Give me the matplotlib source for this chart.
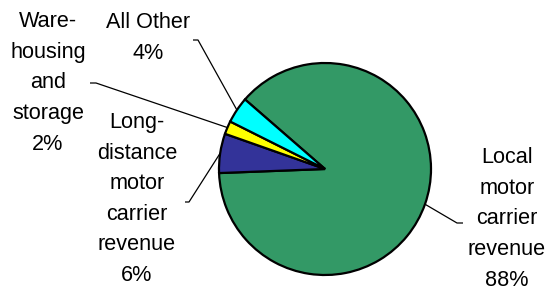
import matplotlib
matplotlib.use("Agg")
import matplotlib.pyplot as plt
import numpy as np

labels = ["Local\nmotor\ncarrier\nrevenue", "Long-\ndistance\nmotor\ncarrier\nrevenue",
          "Ware-\nhousing\nand\nstorage", "All Other"]
values = [88, 6, 2, 4]
colors = ["#339966", "#333399", "#FFFF00", "#00FFFF"]

W, H = 550, 291
fig = plt.figure(figsize=(W / 100, H / 100), dpi=100)
ax = fig.add_axes([0, 0, 1, 1])
ax.set_xlim(0, W)
ax.set_ylim(0, H)
ax.set_aspect("equal")
ax.axis("off")

cx, cy, r = 325, H - 169, 106
wedges, _ = ax.pie(values, colors=colors, startangle=139, counterclock=False,
                   center=(cx, cy), radius=r, frame=True,
                   wedgeprops=dict(edgecolor="black", linewidth=1.6))
ax.set_xlim(0, W)
ax.set_ylim(0, H)
ax.axis("off")

# label text centres (pixel coords from top) and leader elbows
text_pos = [(507, 219), (137, 199), (48, 83), (148, 38)]
elbows = [((463, 223), (457, 223)), ((185, 202), (189, 202)),
          ((90, 83), (96, 83)), ((193, 40), (198, 40))]

for w, lab, v, (tx, ty), (e0, e1) in zip(wedges, labels, values, text_pos, elbows):
    mid = np.deg2rad((w.theta1 + w.theta2) / 2)
    ex, ey = cx + r * np.cos(mid), cy + r * np.sin(mid)
    xs = [e0[0], e1[0], ex]
    ys = [H - e0[1], H - e1[1], ey]
    ax.plot(xs, ys, color="black", linewidth=0.9, solid_capstyle="butt")
    ax.text(tx, H - ty, f"{lab}\n{v}%", ha="center", va="center",
            fontsize=15.6, family="Liberation Sans", linespacing=1.6)

fig.savefig("out.png", dpi=100)
